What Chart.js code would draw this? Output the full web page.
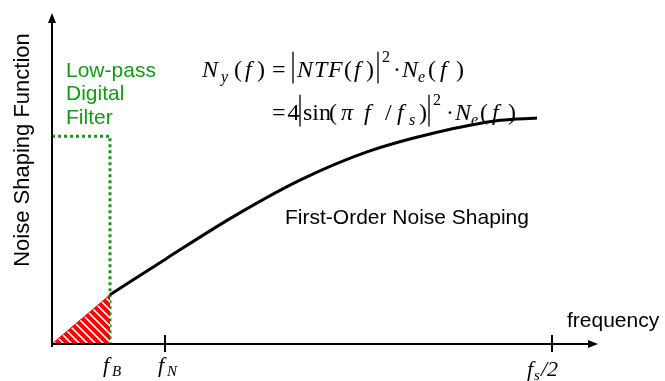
<!DOCTYPE html>
<html lang="en">
<head>
  <meta charset="UTF-8" />
  <title>First-Order Noise Shaping</title>
  <script src="https://cdn.jsdelivr.net/npm/chart.js"></script>
  <style>
    html, body { margin: 0; padding: 0; background: #fff; }
    #wrap { width: 665px; height: 381px; position: relative; }
  </style>
</head>
<body>
  <div id="wrap"><canvas id="nsChart"></canvas></div>

  <script>
    // normalised frequency f/fs on x, noise shaping gain on y
    const tickFreqs = [0.058, 0.113, 0.5];
    const tickNames = ['B', 'N', 's'];
    const inbandFreq = [0, 0.058];
    const inbandGain = [0, 0.87];
    const curveFreq = [0.058, 0.115, 0.181, 0.248, 0.315, 0.381, 0.448, 0.485];
    const curveGain = [0.87, 1.52, 2.25, 2.90, 3.40, 3.73, 3.96, 4.0];
    const filterFreq = [0, 0.058, 0.058];
    const filterGain = [3.68, 3.68, 0];

    const GREEN = '#149a14';
    const SANS = '"Liberation Sans", Arial, sans-serif';
    const SERIF = '"Liberation Serif", "Times New Roman", serif';

    const pts = (xs, ys) => xs.map((x, i) => ({ x, y: ys[i] }));

    // red/white diagonal hatch for the in-band noise area
    function hatch() {
      const c = document.createElement('canvas');
      c.width = 8; c.height = 8;
      const g = c.getContext('2d');
      for (let x = 0; x < 8; x++) {
        for (let y = 0; y < 8; y++) {
          const k = (x - y + 8) % 8;
          g.fillStyle = k === 0 ? '#ffffff' : (k === 1 || k === 7) ? '#ff9a9a' : '#ff0000';
          g.fillRect(x, y, 1, 1);
        }
      }
      return g.createPattern(c, 'repeat');
    }

    // math glyphs placed along a baseline: [dx, text, italic, 'sub'|'sup'|'bar']
    function drawMath(ctx, segs, x0, base, size) {
      segs.forEach(([dx, t, it, d]) => {
        const x = x0 + dx;
        if (d === 'bar') {
          ctx.save();
          ctx.lineWidth = 1.3;
          ctx.beginPath();
          ctx.moveTo(x, base - size * 1.05);
          ctx.lineTo(x, base + size * 0.27);
          ctx.stroke();
          ctx.restore();
          return;
        }
        const fs = d ? Math.round(size * 0.66) : size;
        const dy = d === 'sub' ? size * 0.2 : d === 'sup' ? -size * 0.62 : 0;
        ctx.font = (it ? 'italic ' : '') + fs + 'px ' + SERIF;
        ctx.fillText(t, x, base + dy);
      });
    }

    const line1 = [
      [0, 'N', 1], [19, 'y', 1, 'sub'], [32, '('], [43, 'f', 1], [55, ')'], [70, '='],
      [91, '', 0, 'bar'], [95, 'N', 1], [112, 'T', 1], [126, 'F', 1], [142, '('], [152, 'f', 1],
      [164, ')'], [176, '', 0, 'bar'], [180, '2', 0, 'sup'], [191, '·'], [200, 'N', 1],
      [216, 'e', 1, 'sub'], [226, '('], [238, 'f', 1], [254, ')']
    ];
    const line2 = [
      [0, '='], [15.5, '4'], [28, '', 0, 'bar'], [31, 'sin'], [57, '('], [69, 'π', 1],
      [92, 'f', 1], [113, '/'], [125, 'f', 1], [137, 's', 1, 'sub'], [147, ')'],
      [157, '', 0, 'bar'], [161, '2', 0, 'sup'], [174, '·'], [183, 'N', 1],
      [199, 'e', 1, 'sub'], [208, '('], [220, 'f', 1], [236, ')']
    ];

    const sketchAxes = {
      id: 'sketchAxes',
      afterDatasetsDraw(chart) {
        const { ctx, scales: { x, y } } = chart;
        const x0 = x.getPixelForValue(0), y0 = y.getPixelForValue(0);
        const xEnd = x.right, yEnd = y.top;
        ctx.save();
        ctx.strokeStyle = '#000';
        ctx.fillStyle = '#000';
        ctx.lineWidth = 2;
        ctx.beginPath();
        ctx.moveTo(x0, y0 + 3);
        ctx.lineTo(x0, yEnd + 8);
        ctx.moveTo(x0, y0);
        ctx.lineTo(xEnd - 8, y0);
        ctx.stroke();
        // arrow heads
        ctx.beginPath();
        ctx.moveTo(x0, yEnd);
        ctx.lineTo(x0 - 4, yEnd + 10);
        ctx.lineTo(x0 + 4, yEnd + 10);
        ctx.closePath();
        ctx.fill();
        ctx.beginPath();
        ctx.moveTo(xEnd, y0);
        ctx.lineTo(xEnd - 10, y0 - 4);
        ctx.lineTo(xEnd - 10, y0 + 4);
        ctx.closePath();
        ctx.fill();

        // tick marks at f_N and f_s/2
        tickFreqs.slice(1).forEach(v => {
          const px = x.getPixelForValue(v);
          ctx.beginPath();
          ctx.moveTo(px, y0 - 9);
          ctx.lineTo(px, y0 + 8);
          ctx.stroke();
        });

        // tick labels
        ctx.textBaseline = 'alphabetic';
        tickFreqs.forEach((v, i) => {
          const px = x.getPixelForValue(v);
          if (tickNames[i] === 's') {
            drawMath(ctx, [[-25, 'f', 1], [-18, 's', 1, 'sub'], [-11, '/2', 1]], px, y0 + 32, 22);
          } else {
            drawMath(ctx, [[-7, 'f', 1], [2, tickNames[i], 1, 'sub']], px, y0 + 28, 22);
          }
        });

        // formula
        drawMath(ctx, line1, 202, 77, 24);
        drawMath(ctx, line2, 272, 120, 24);

        // sans labels
        ctx.font = '21px ' + SANS;
        ctx.textAlign = 'left';
        ctx.fillText('First-Order Noise Shaping', 285, 224);
        ctx.fillText('frequency', 567, 327);
        ctx.fillStyle = GREEN;
        ctx.fillText('Low-pass', 66, 77);
        ctx.fillText('Digital', 66, 100);
        ctx.fillText('Filter', 66, 124);

        ctx.fillStyle = '#000';
        ctx.font = '22px ' + SANS;
        ctx.translate(23, 150);
        ctx.rotate(-Math.PI / 2);
        ctx.textAlign = 'center';
        ctx.textBaseline = 'middle';
        ctx.fillText('Noise Shaping Function', 0, 0);
        ctx.restore();
      }
    };

    new Chart(document.getElementById('nsChart'), {
      type: 'scatter',
      data: {
        datasets: [
          {
            data: pts(inbandFreq, inbandGain),
            showLine: true,
            fill: 'origin',
            backgroundColor: hatch(),
            borderColor: '#ff0000',
            borderWidth: 1,
            pointRadius: 0
          },
          {
            data: pts(curveFreq, curveGain),
            showLine: true,
            cubicInterpolationMode: 'monotone',
            borderColor: '#000',
            borderWidth: 3,
            pointRadius: 0
          },
          {
            data: pts(filterFreq, filterGain),
            showLine: true,
            borderColor: GREEN,
            borderWidth: 3,
            borderDash: [3, 3],
            pointRadius: 0
          }
        ]
      },
      options: {
        responsive: true,
        maintainAspectRatio: false,
        animation: false,
        events: [],
        layout: { padding: { left: 52, right: 67, top: 13, bottom: 37 } },
        plugins: { legend: { display: false }, tooltip: { enabled: false } },
        scales: {
          x: { type: 'linear', min: 0, max: 0.546, display: false },
          y: { type: 'linear', min: 0, max: 5.86, display: false }
        }
      },
      plugins: [sketchAxes]
    });
  </script>
</body>
</html>
